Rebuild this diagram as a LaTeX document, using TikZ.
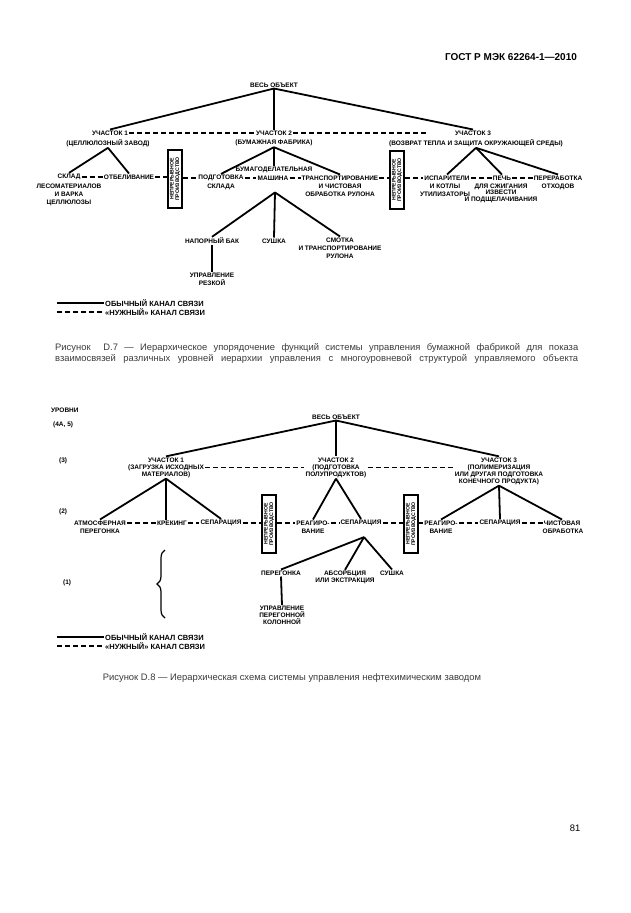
\documentclass[tikz,border=0pt]{standalone}
\usepackage{fontspec}
\setmainfont{Liberation Sans}
\usepackage{tikz}
\usetikzlibrary{positioning,decorations.pathreplacing}
\definecolor{captext}{RGB}{60,60,60}
\tikzset{
  lbl/.style={font=\bfseries\fontsize{6.5}{8}\selectfont,align=center,inner sep=1pt},
  lbls/.style={font=\bfseries\fontsize{6.5}{7}\selectfont,align=center,inner sep=1pt},
  legtext/.style={font=\bfseries\fontsize{7.5}{9}\selectfont,inner sep=1pt},
  figcap/.style={font=\fontsize{9.4}{11}\selectfont,text=captext,inner sep=0pt},
  link/.style={line width=1.8pt},
  need/.style={line width=1.2pt,dash pattern=on 5pt off 3pt},
  contbox/.style={draw,line width=1.5pt,minimum width=14pt,minimum height=58pt,inner sep=0pt},
  boxtext/.style={rotate=90,font=\bfseries\fontsize{5.2}{5.6}\selectfont,align=center,inner sep=0pt}
}
\newcommand{\contunit}[2]{%
  \node[contbox] (#1) at (#2) {};%
  \node[boxtext] (#1t) at (#1) {НЕПРЕРЫВНОЕ\\ПРОИЗВОДСТВО};%
}
\newcommand{\chanlegend}[2]{%
  \coordinate (#1a) at (57,#2);
  \node[legtext,anchor=west] (#1n) at (104,#2) {ОБЫЧНЫЙ КАНАЛ СВЯЗИ};
  \draw[link] (#1a) -- (#1n.west);
  \coordinate (#1b) at (57,#2+9);
  \node[legtext,anchor=west] (#1d) at (104,#2+9) {«НУЖНЫЙ» КАНАЛ СВЯЗИ};
  \draw[need] (#1b) -- (#1d.west);
}

\begin{document}
\begin{tikzpicture}[x=1pt,y=-1pt]
  \fill[white] (0,0) rectangle (630,913);
  \useasboundingbox (0,0) rectangle (630,913);
  \node[font=\bfseries\fontsize{10}{12}\selectfont,inner sep=0pt] (hdr) at (511,57) {ГОСТ Р МЭК 62264-1—2010};

  % Рисунок D.7
  \node[lbl] (w7) at (274,85) {ВЕСЬ ОБЪЕКТ};
  \node[lbl] (p1) at (110,133) {УЧАСТОК 1};
  \node[lbl] (p1s) at (108,143) {(ЦЕЛЛЮЛОЗНЫЙ ЗАВОД)};
  \node[lbl] (p2) at (274,133) {УЧАСТОК 2};
  \node[lbl] (p2s) at (274,143) {(БУМАЖНАЯ ФАБРИКА)};
  \node[lbl] (p3) at (473,133) {УЧАСТОК 3};
  \node[lbl] (p3s) at (476,143) {(ВОЗВРАТ ТЕПЛА И ЗАЩИТА ОКРУЖАЮЩЕЙ СРЕДЫ)};
  \coordinate (p2e) at (427,133);
  \foreach \t in {p1,p2,p3} \draw[link] (w7.south) -- (\t.north);
  \draw[need] (p1.east) -- (p2.west);
  \draw[need] (p2.east) -- (p2e);

  \node[lbl] (sk) at (69,177) {СКЛАД};
  \node[lbl] (skb) at (69,195) {ЛЕСОМАТЕРИАЛОВ\\И ВАРКА\\ЦЕЛЛЮЛОЗЫ};
  \node[lbl] (ot) at (129,177) {ОТБЕЛИВАНИЕ};
  \contunit{c1}{175,179}
  \node[lbl] (pd) at (221,178) {ПОДГОТОВКА};
  \node[lbl] (pdb) at (221,187) {СКЛАДА};
  \node[lbl] (mt) at (274,170) {БУМАГОДЕЛАТЕЛЬНАЯ};
  \node[lbl] (mm) at (273,178) {МАШИНА};
  \node[lbl] (tr) at (340,178) {ТРАНСПОРТИРОВАНИЕ};
  \node[lbl] (trb) at (340,190.5) {И ЧИСТОВАЯ\\ОБРАБОТКА РУЛОНА};
  \contunit{c2}{397,180}
  \node[lbl] (ev) at (447,178) {ИСПАРИТЕЛИ};
  \node[lbl] (evb) at (445,190) {И КОТЛЫ\\УТИЛИЗАТОРЫ};
  \node[lbl] (kl) at (502,178) {ПЕЧЬ};
  \node[lbl,font=\bfseries\fontsize{6.5}{6.6}\selectfont] (klb) at (501,193) {ДЛЯ СЖИГАНИЯ\\ИЗВЕСТИ\\И ПОДЩЕЛАЧИВАНИЯ};
  \node[lbl] (wr) at (558,178) {ПЕРЕРАБОТКА};
  \node[lbl] (wrb) at (558,187) {ОТХОДОВ};
  \foreach \t in {sk,ot} \draw[link] (p1s.south) -- (\t.north);
  \foreach \t in {pd,mt,tr} \draw[link] (p2s.south) -- (\t.north);
  \foreach \t in {ev,kl,wr} \draw[link] (p3s.south) -- (\t.north);
  \draw[need] (sk.east) -- (ot.west);
  \draw[need] (ot.east) -- (ot.east -| c1.west);
  \draw[need] (c1.east |- pd.west) -- (pd.west);
  \draw[need] (pd.east) -- (mm.west);
  \draw[need] (mm.east) -- (tr.west);
  \draw[need] (tr.east) -- (tr.east -| c2.west);
  \draw[need] (c2.east |- ev.west) -- (ev.west);
  \draw[need] (ev.east) -- (kl.west);
  \draw[need] (kl.east) -- (wr.west);

  \node[lbl] (tk) at (212,241) {НАПОРНЫЙ БАК};
  \node[lbl] (dr) at (274,241) {СУШКА};
  \node[lbl] (rl) at (340,248) {СМОТКА\\И ТРАНСПОРТИРОВАНИЕ\\РУЛОНА};
  \node[lbl] (tc) at (212,279) {УПРАВЛЕНИЕ\\РЕЗКОЙ};
  \foreach \t in {tk,dr,rl} \draw[link] ([xshift=2pt,yshift=-11pt]mm.south) -- (\t.north);
  \draw[link] (tk.south) -- (tc.north);

  \chanlegend{l7}{303}
  \node[figcap,anchor=west] (cap7a) at (55,348) {\makebox[523pt][s]{Рисунок\ \ D.7 — Иерархическое упорядочение функций системы управления бумажной фабрикой для показа}};
  \node[figcap,anchor=west] (cap7b) at (55,359) {\makebox[523pt][s]{взаимосвязей различных уровней иерархии управления с многоуровневой структурой управляемого объекта}};

  % Рисунок D.8
  \node[lbl,anchor=west] (lv) at (50,410) {УРОВНИ};
  \node[lbl,anchor=west] (lv4) at (52,425) {(4А, 5)};
  \node[lbl,anchor=west] (lv3) at (58,461) {(3)};
  \node[lbl,anchor=west] (lv2) at (58,512) {(2)};
  \node[lbl,anchor=west] (lv1) at (62,583) {(1)};

  \node[lbl] (w8) at (336,417) {ВЕСЬ ОБЪЕКТ};
  \node[lbls] (q1) at (166,467.5) {УЧАСТОК 1\\(ЗАГРУЗКА ИСХОДНЫХ\\МАТЕРИАЛОВ)};
  \node[lbls] (q2) at (336,467.5) {УЧАСТОК 2\\(ПОДГОТОВКА\\ПОЛУПРОДУКТОВ)};
  \node[lbls] (q3) at (499,471) {УЧАСТОК 3\\(ПОЛИМЕРИЗАЦИЯ\\ИЛИ ДРУГАЯ ПОДГОТОВКА\\КОНЕЧНОГО ПРОДУКТА)};
  \foreach \t in {q1,q2,q3} \draw[link] (w8.south) -- (\t.north);
  \draw[need] (q1.east) -- (q2.west);
  \draw[need] (q2.east) -- (q2.east -| q3.west);

  \node[lbl] (at) at (100,523) {АТМОСФЕРНАЯ};
  \node[lbl] (atb) at (100,531) {ПЕРЕГОНКА};
  \node[lbl] (cr) at (172,523) {КРЕКИНГ};
  \node[lbl] (s1) at (221,523) {СЕПАРАЦИЯ};
  \contunit{c3}{269,524}
  \node[lbl] (r1) at (313,523) {РЕАГИРО-};
  \node[lbl] (r1b) at (313,531) {ВАНИЕ};
  \node[lbl] (s2) at (361,523) {СЕПАРАЦИЯ};
  \contunit{c4}{411,524}
  \node[lbl] (r2) at (441,523) {РЕАГИРО-};
  \node[lbl] (r2b) at (441,531) {ВАНИЕ};
  \node[lbl] (s3) at (500,523) {СЕПАРАЦИЯ};
  \node[lbl] (fn) at (562,523) {ЧИСТОВАЯ};
  \node[lbl] (fnb) at (563,531) {ОБРАБОТКА};
  \draw[link] (q1.south) -- (at.north);
  \draw[link] (q1.south) -- (q1.south |- cr.north);
  \draw[link] (q1.south) -- (s1.north);
  \foreach \t in {r1,s2} \draw[link] (q2.south) -- (\t.north);
  \foreach \t in {r2,s3,fn} \draw[link] (q3.south) -- (\t.north);
  \draw[need] (at.east) -- (cr.west);
  \draw[need] (cr.east) -- (s1.west);
  \draw[need] (s1.east) -- (s1.east -| c3.west);
  \draw[need] (c3.east |- r1.west) -- (r1.west);
  \draw[need] (r1.east) -- (s2.west);
  \draw[need] (s2.east) -- (s2.east -| c4.west);
  \draw[need] (c4.east |- r2.west) -- (r2.west);
  \draw[need] (r2.east) -- (s3.west);
  \draw[need] (s3.east) -- (fn.west);

  \node[lbl] (ds) at (281,573) {ПЕРЕГОНКА};
  \node[lbls] (ax) at (345,577.5) {АБСОРБЦИЯ\\ИЛИ ЭКСТРАКЦИЯ};
  \node[lbl] (dy) at (392,573) {СУШКА};
  \node[lbls] (dc) at (282,615.5) {УПРАВЛЕНИЕ\\ПЕРЕГОННОЙ\\КОЛОННОЙ};
  \foreach \t in {ds,ax,dy} \draw[link] ([xshift=3pt,yshift=-10pt]s2.south) -- (\t.north);
  \draw[link] (ds.south) -- (dc.north);

  \draw[line width=1.2pt,decorate,decoration={brace,amplitude=8pt,aspect=0.5}] (165,618) -- (165,550);

  \chanlegend{l8}{637}
  \node[figcap] (cap8) at (292,678) {Рисунок D.8 — Иерархическая схема системы управления нефтехимическим заводом};
  \node[figcap,text=black] (pgno) at (575,828) {81};
\end{tikzpicture}
\end{document}
